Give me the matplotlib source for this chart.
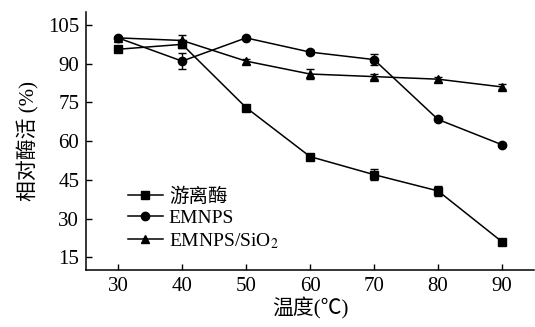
import matplotlib
matplotlib.use("Agg")
import matplotlib.pyplot as plt
from matplotlib.lines import Line2D

plt.rcParams['font.family'] = ['Liberation Serif', 'Noto Sans CJK SC']
plt.rcParams['mathtext.fontset'] = 'stix'

temps = [30, 40, 50, 60, 70, 80, 90]
free_enzyme = [95.6, 97.5, 73, 54, 47, 40.7, 21]
free_err = [0.8, 1.5, 0.8, 0.8, 2, 2, 0.5]
emnps = [100, 91, 100, 94.5, 91.6, 68.4, 58.6]
emnps_err = [0.5, 3, 0.5, 0.8, 2, 0.8, 0.6]
emnps_sio2 = [100, 99, 91, 86, 85, 84, 81]
sio2_err = [0.5, 2, 1, 2, 1, 1, 1]
labels = ['游离酶', 'EMNPS', 'EMNPS/SiO$_2$']
markers = ['s', 'o', '^']
yticks = [15, 30, 45, 60, 75, 90, 105]

fig = plt.figure(figsize=(5.35, 3.27), dpi=100)
ax = fig.add_axes([0.161, 0.174, 0.837, 0.789])

kw = dict(color='black', lw=1.1, capsize=3, elinewidth=1, capthick=1, ms=6)
series = [(free_enzyme, free_err), (emnps, emnps_err), (emnps_sio2, sio2_err)]
handles = []
for (vals, err), m, lab in zip(series, markers, labels):
    ax.errorbar(temps, vals, yerr=err, marker=m, **kw)
    handles.append(Line2D([], [], color='black', lw=1.1, marker=m, ms=6, label=lab))

ax.set_xlim(25, 95)
ax.set_ylim(10, 110)
ax.set_xticks(temps)
ax.set_yticks(yticks)
ax.tick_params(direction='in', labelsize=15, length=4, width=1, pad=5)
for s in ['top', 'right']:
    ax.spines[s].set_visible(False)
for s in ['left', 'bottom']:
    ax.spines[s].set_linewidth(1.1)

ax.set_xlabel('温度(℃)', fontsize=15, labelpad=1)
ax.set_ylabel('相对酶活 (%)', fontsize=15, labelpad=6)

ax.legend(handles=handles, loc='lower left', bbox_to_anchor=(0.076, 0.045), frameon=False,
          fontsize=14, handlelength=1.8, handletextpad=0.3, labelspacing=0.2,
          borderaxespad=0)

fig.savefig('out.png', dpi=100)
